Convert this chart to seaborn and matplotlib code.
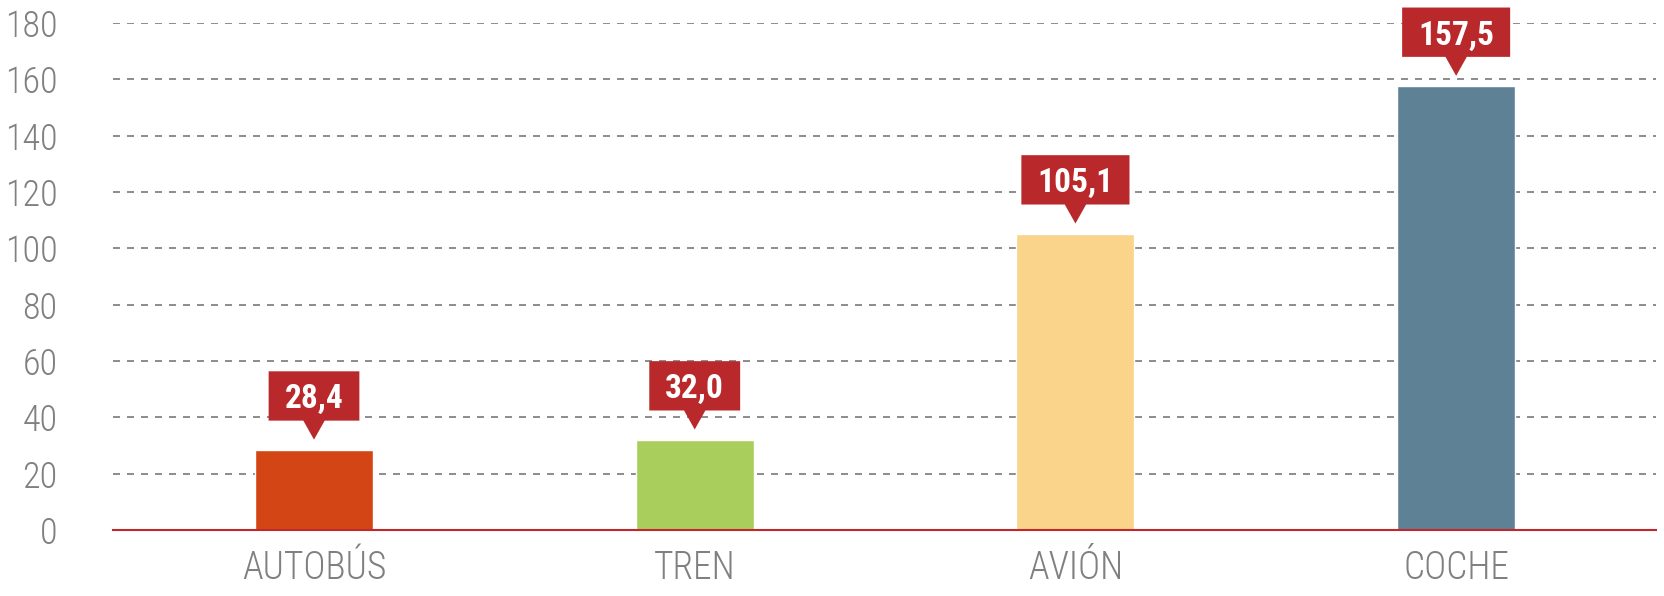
import matplotlib
matplotlib.use("Agg")
import matplotlib.pyplot as plt
from matplotlib.path import Path
import seaborn as sns
import pandas as pd

# data
categories = ["AUTOBÚS", "TREN", "AVIÓN", "COCHE"]
values = [28.4, 32.0, 105.1, 157.5]
value_labels = ["28,4", "32,0", "105,1", "157,5"]
bar_colors = ["#D44515", "#AACE5B", "#F9D48A", "#5E8196"]
y_ticks = [0, 20, 40, 60, 80, 100, 120, 140, 160, 180]

sns.set_style("white")
plt.rcParams['font.family'] = ['Roboto Condensed', 'DejaVu Sans']

label_red = "#B9292B"
gray = "#8C8C8C"


def callout(x0, y0, width, height, mutation_size):
    # box with its own padding on each side and a pointer under its middle
    padx = 0.48 * mutation_size
    pad_top = 0.36 * mutation_size
    pad_bottom = 0.16 * mutation_size
    x1 = x0 + width + padx
    y1 = y0 + height + pad_top
    x0, y0 = x0 - padx, y0 - pad_bottom
    cx = (x0 + x1) / 2
    ph = 0.57 * mutation_size
    pw = 0.32 * mutation_size
    verts = [(x0, y0), (cx - pw, y0), (cx, y0 - ph), (cx + pw, y0),
             (x1, y0), (x1, y1), (x0, y1), (x0, y0)]
    codes = [Path.MOVETO] + [Path.LINETO] * 6 + [Path.CLOSEPOLY]
    return Path(verts, codes)


df = pd.DataFrame({"cat": categories, "val": values})

fig = plt.figure(figsize=(16.64, 5.96), dpi=100)
ax = fig.add_axes([0.0679, 0.1107, 0.9273, 0.851])

sns.barplot(data=df, x="cat", y="val", hue="cat", palette=bar_colors,
            width=0.31, legend=False, ax=ax, saturation=1, zorder=3)

ax.set_xlim(-0.528, 3.525)
ax.set_ylim(0, 180)
ax.set_yticks(y_ticks)
ax.set_xlabel("")
ax.set_ylabel("")

for s in ["top", "right", "left"]:
    ax.spines[s].set_visible(False)
ax.spines["bottom"].set_color("#C0282B")
ax.spines["bottom"].set_linewidth(1.5)
ax.spines["bottom"].set_zorder(4)

ax.yaxis.grid(True, linestyle=(0, (3.6, 3.6)), color=gray, linewidth=1.4, zorder=0)
ax.xaxis.grid(False)
ax.tick_params(axis="y", length=0, pad=40, labelsize=26, labelcolor="#808080")
ax.tick_params(axis="x", length=0, pad=14, labelsize=27, labelcolor="#808080")
for t in ax.get_yticklabels() + ax.get_xticklabels():
    t.set_fontweight("light")

# value callouts above each bar
for i, (v, lab) in enumerate(zip(values, value_labels)):
    ax.annotate(lab, xy=(i, v), xytext=(0, 36.5), textcoords="offset points",
                ha="center", va="center", color="white", fontsize=24,
                fontweight="bold", annotation_clip=False, zorder=6,
                bbox=dict(boxstyle=callout, fc=label_red, ec="none"))

fig.savefig("out.png", dpi=100)
